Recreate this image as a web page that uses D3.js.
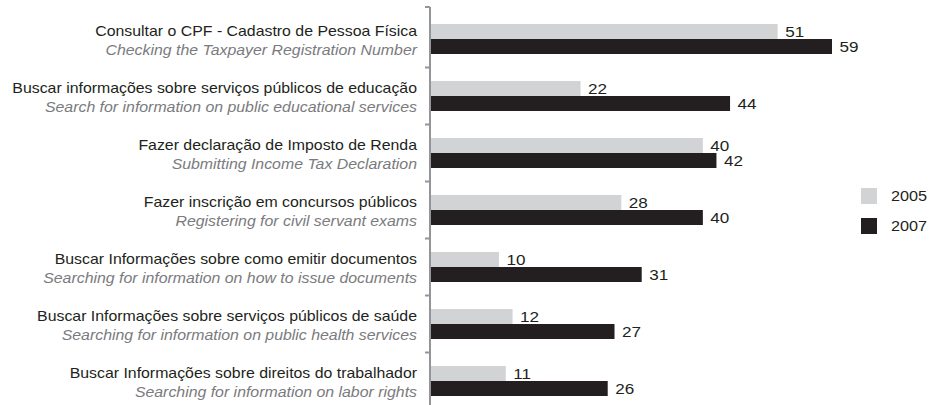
<!DOCTYPE html>
<html>
<head>
<meta charset="utf-8">
<script src="https://cdn.jsdelivr.net/npm/d3@7"></script>
<style>
  html, body { margin: 0; padding: 0; background: #fff; }
  svg { display: block; font-family: "Liberation Sans", Arial, sans-serif; }
</style>
</head>
<body>
<svg id="chart" width="930" height="405"></svg>
<script>
const categoriesPt = [
  "Consultar o CPF - Cadastro de Pessoa Física",
  "Buscar informações sobre serviços públicos de educação",
  "Fazer declaração de Imposto de Renda",
  "Fazer inscrição em concursos públicos",
  "Buscar Informações sobre como emitir documentos",
  "Buscar Informações sobre serviços públicos de saúde",
  "Buscar Informações sobre direitos do trabalhador"
];
const categoriesEn = [
  "Checking the Taxpayer Registration Number",
  "Search for information on public educational services",
  "Submitting Income Tax Declaration",
  "Registering for civil servant exams",
  "Searching for information on how to issue documents",
  "Searching for information on public health services",
  "Searching for information on labor rights"
];
const seriesNames = ["2005", "2007"];
const values2005 = [51, 22, 40, 28, 10, 12, 11];
const values2007 = [59, 44, 42, 40, 31, 27, 26];

const colors = { "2005": "#d1d3d4", "2007": "#231f20" };

const svg = d3.select("#chart");

const axisX = 430;
const x = d3.scaleLinear().domain([0, 59]).range([axisX + 1, 832]);
const y = d3.scaleBand().domain(d3.range(categoriesPt.length)).range([10.5, 10.5 + 57 * categoriesPt.length]).padding(0);
const inner = d3.scaleBand().domain(seriesNames).range([y.bandwidth() / 2 - 15, y.bandwidth() / 2 + 15]).padding(0);

const seriesData = { "2005": values2005, "2007": values2007 };
const FS = 14.5;

// bars
const groups = svg.selectAll("g.cat")
  .data(d3.range(categoriesPt.length))
  .join("g")
  .attr("class", "cat")
  .attr("transform", i => `translate(0,${y(i)})`);

seriesNames.forEach(s => {
  groups.append("rect")
    .attr("x", x(0))
    .attr("y", inner(s))
    .attr("width", i => x(seriesData[s][i]) - x(0))
    .attr("height", inner.bandwidth())
    .attr("fill", colors[s]);
  groups.append("text")
    .attr("transform", i => `translate(${x(seriesData[s][i]) + 7.5},${inner(s) + inner.bandwidth() / 2}) scale(1.18,1)`)
    .attr("dy", "0.36em")
    .attr("font-size", FS)
    .attr("fill", "#231f20")
    .text(i => seriesData[s][i]);
});

// category labels
groups.append("text")
  .attr("transform", `translate(417,${y.bandwidth() / 2 - 3}) scale(1.095,1)`)
  .attr("text-anchor", "end")
  .attr("font-size", FS)
  .attr("fill", "#231f20")
  .text(i => categoriesPt[i]);
groups.append("text")
  .attr("transform", `translate(417,${y.bandwidth() / 2 + 15.5}) scale(1.095,1)`)
  .attr("text-anchor", "end")
  .attr("font-size", FS)
  .attr("font-style", "italic")
  .attr("fill", "#7a7b7e")
  .text(i => categoriesEn[i]);

// axis line and ticks
const axisColor = "#939598";
svg.append("line")
  .attr("x1", axisX).attr("x2", axisX)
  .attr("y1", 7).attr("y2", 405)
  .attr("stroke", axisColor).attr("stroke-width", 2);
const tickYs = [7].concat(d3.range(1, categoriesPt.length).map(i => y(i)));
svg.selectAll("line.tick")
  .data(tickYs)
  .join("line")
  .attr("class", "tick")
  .attr("x1", axisX - 5).attr("x2", axisX)
  .attr("y1", d => d).attr("y2", d => d)
  .attr("stroke", axisColor).attr("stroke-width", 2);

// legend
const legend = svg.append("g").attr("transform", "translate(861,188)");
seriesNames.forEach((s, i) => {
  legend.append("rect")
    .attr("x", 0).attr("y", i * 30)
    .attr("width", 16).attr("height", 16)
    .attr("fill", colors[s]);
  legend.append("text")
    .attr("transform", `translate(30,${i * 30 + 8}) scale(1.12,1)`)
    .attr("dy", "0.36em")
    .attr("font-size", FS)
    .attr("fill", "#231f20")
    .text(s);
});
</script>
</body>
</html>
